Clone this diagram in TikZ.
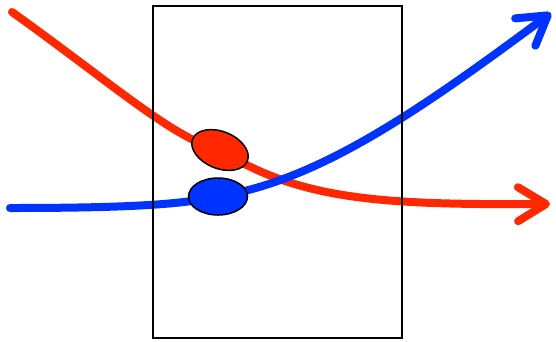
\documentclass[tikz,border=0pt]{standalone}
\usetikzlibrary{arrows.meta,shapes.geometric}
\pgfdeclarelayer{bg}
\pgfsetlayers{bg,main}
\definecolor{myred}{RGB}{255,40,0}
\definecolor{myblue}{RGB}{0,51,255}
\tikzset{
  line/.style={line width=8pt, line cap=round},
  track/.style={line, -{Straight Barb[round,length=28pt,width=34pt]}},
  blob/.style={ellipse, draw=black, line width=1.5pt, inner sep=0pt, minimum width=59pt, minimum height=37pt},
  frame/.style={draw=black, line width=1.2pt, inner sep=0pt, minimum width=249pt, minimum height=332pt}
}
\begin{document}
\begin{tikzpicture}[x=1pt,y=-1pt]
\useasboundingbox (0,0) rectangle (556,341);
\node[frame] (box) at (277.5,172) {};
\node[blob, fill=myred, rotate=-22] (re) at (220,150) {};
\node[blob, fill=myblue] (be) at (218,196.5) {};
\coordinate (rs) at (12,12);
\coordinate (re2) at (550,204);
\coordinate (bs) at (10,208);
\coordinate (be2) at (551,13);
\begin{pgfonlayer}{bg}
\draw[line, myred] (rs) .. controls (110,82) and (175,140) .. (re.center);
\draw[track, myred] (re.center) .. controls (300,200) and (380,205) .. (re2);
\draw[line, myblue] (bs) .. controls (120,208) and (180,205) .. (be.center);
\draw[track, myblue] (be.center) .. controls (320,180) and (420,110) .. (be2);
\end{pgfonlayer}
\end{tikzpicture}
\end{document}
